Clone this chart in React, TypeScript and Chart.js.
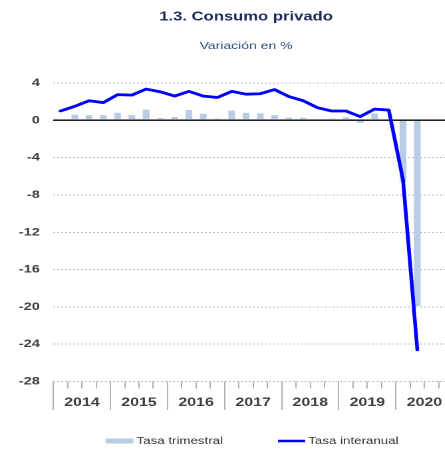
import React, { useEffect, useRef } from "react";
import { Chart, registerables } from "chart.js";

Chart.register(...registerables);

// ---- data ----
const YEARS = ["2014", "2015", "2016", "2017", "2018", "2019", "2020"];
const QUARTERS = YEARS.flatMap((y) => ["T1", "T2", "T3", "T4"].map((q) => `${q} ${y}`));

// Tasa trimestral (% q/q)
const TASA_TRIMESTRAL: (number | null)[] = [
  0.0, 0.6, 0.55, 0.55,
  0.8, 0.55, 1.15, 0.25,
  0.35, 1.1, 0.7, 0.2,
  1.05, 0.8, 0.75, 0.55,
  0.3, 0.28, 0.0, 0.18,
  0.32, -0.3, 0.75, 0.0,
  -6.6, -19.9, null, null,
];

// Tasa interanual (% y/y)
const TASA_INTERANUAL: (number | null)[] = [
  1.0, 1.5, 2.1, 1.9,
  2.75, 2.7, 3.35, 3.05,
  2.6, 3.1, 2.6, 2.45,
  3.1, 2.8, 2.85, 3.3,
  2.55, 2.1, 1.35, 1.0,
  1.0, 0.4, 1.2, 1.1,
  -6.4, -24.6, null, null,
];

const Y_MIN = -28;
const Y_MAX = 4;
const Y_STEP = 4;

const TITLE = "1.3. Consumo privado";
const SUBTITLE = "Variación en %";
const LEGEND_BAR = "Tasa trimestral";
const LEGEND_LINE = "Tasa interanual";

// ---- style ----
const FONT = "'Liberation Sans', Arial, Helvetica, sans-serif";
const BAR_COLOR = "#b8cce4";
const LINE_COLOR = "#0000ff";
const SCALE_X = 1.33;
const CANVAS_W = 370;
const CANVAS_H = 449;
const Y_LABEL_FONT_SIZE = 11;
const YEAR_TICK_LEN = 21.5;

const legendPlugin = {
  id: "customLegend",
  afterDraw(chart: any) {
    const ctx = chart.ctx;
    ctx.save();
    ctx.font = `10px ${FONT}`;
    ctx.textBaseline = "middle";
    ctx.textAlign = "left";
    const y = 441;
    const boxW = 21;
    const lineW = 20.5;
    const gapT = 2.3;
    const gapItems = 41.3;
    const t1 = ctx.measureText(LEGEND_BAR).width;
    const t2 = ctx.measureText(LEGEND_LINE).width;
    const total = boxW + gapT + t1 + gapItems + lineW + gapT + t2;
    let x = 189.5 - total / 2;
    const barDs = chart.data.datasets[1];
    const lineDs = chart.data.datasets[0];
    ctx.fillStyle = barDs.backgroundColor;
    ctx.fillRect(x, y - 2.5, boxW, 5);
    x += boxW + gapT;
    ctx.fillStyle = "#333333";
    ctx.fillText(LEGEND_BAR, x, y);
    x += t1 + gapItems;
    ctx.strokeStyle = lineDs.borderColor;
    ctx.lineWidth = 2.6;
    ctx.beginPath();
    ctx.moveTo(x, y);
    ctx.lineTo(x + lineW, y);
    ctx.stroke();
    x += lineW + gapT;
    ctx.fillStyle = "#333333";
    ctx.fillText(LEGEND_LINE, x, y);
    ctx.restore();
  },
};

export default function App() {
  const canvasRef = useRef<HTMLCanvasElement | null>(null);

  useEffect(() => {
    const canvas = canvasRef.current;
    if (!canvas) return;
    // widest y label ("-28") in bold Liberation Sans
    const mctx = document.createElement("canvas").getContext("2d")!;
    mctx.font = `bold ${Y_LABEL_FONT_SIZE}px ${FONT}`;
    const widest = Math.max(
      ...Array.from({ length: (Y_MAX - Y_MIN) / Y_STEP + 1 }, (_, i) =>
        mctx.measureText(String(Y_MIN + i * Y_STEP)).width
      )
    );
    const Y_AXIS_W = 10.7;
    const yPad = -(Y_AXIS_W - 0.6 + widest);

    const chart = new Chart(canvas, {
      type: "bar",
      data: {
        labels: QUARTERS,
        datasets: [
          {
            type: "line",
            label: LEGEND_LINE,
            data: TASA_INTERANUAL,
            borderColor: LINE_COLOR,
            backgroundColor: LINE_COLOR,
            borderWidth: 2.8,
            pointRadius: 0,
            tension: 0,
            borderJoinStyle: "round",
            borderCapStyle: "round",
            spanGaps: false,
            order: 0,
            xAxisID: "x",
          } as any,
          {
            type: "bar",
            label: LEGEND_BAR,
            data: TASA_TRIMESTRAL,
            backgroundColor: BAR_COLOR,
            borderWidth: 0,
            barPercentage: 0.47,
            categoryPercentage: 1,
            order: 1,
            xAxisID: "x",
          } as any,
        ],
      },
      options: {
        responsive: false,
        animation: false,
        devicePixelRatio: 2,
        layout: { padding: { top: 0, left: 29.4, right: 29.4, bottom: 39 } },
        plugins: {
          legend: { display: false },
          tooltip: { enabled: false },
          title: {
            display: true,
            text: TITLE,
            color: "#1f2d5c",
            font: { family: FONT, size: 12.5, weight: "bold", lineHeight: 1.2 },
            padding: { top: 9.5, bottom: 15.2 },
          },
          subtitle: {
            display: true,
            text: SUBTITLE,
            color: "#2e4a7a",
            font: { family: FONT, size: 10.5, weight: "normal", lineHeight: 1.2 },
            padding: { top: 0, bottom: 30.7 },
          },
        },
        scales: {
          x: {
            type: "category",
            position: "bottom",
            weight: 0,
            offset: true,
            border: { display: false },
            grid: {
              display: true,
              drawOnChartArea: false,
              offset: true,
              drawTicks: true,
              tickLength: 7,
              color: "#b0b0b0",
              lineWidth: 1,
            },
            ticks: { display: false, autoSkip: false },
          },
          x2: {
            type: "category",
            position: "bottom",
            weight: 1,
            labels: YEARS,
            offset: true,
            afterFit: (scale: any) => {
              scale.height = YEAR_TICK_LEN;
            },
            border: { display: false },
            grid: {
              display: true,
              drawOnChartArea: false,
              offset: true,
              drawTicks: true,
              tickLength: YEAR_TICK_LEN,
              color: "#b0b0b0",
              lineWidth: 1,
            },
            ticks: {
              autoSkip: false,
              maxRotation: 0,
              minRotation: 0,
              mirror: true,
              padding: -21.2,
              color: "#404040",
              font: { family: FONT, size: 12, weight: "bold", lineHeight: 1.2 },
            },
          },
          y: {
            min: Y_MIN,
            max: Y_MAX,
            afterFit: (scale: any) => {
              scale.width = Y_AXIS_W;
            },
            border: {
              display: false,
              dash: (ctx: any) => (ctx.tick && ctx.tick.value === 0 ? [] : [1.5, 1.5]),
            },
            grid: {
              drawTicks: false,
              color: (ctx: any) => (ctx.tick && ctx.tick.value === 0 ? "#000000" : "#bdbdbd"),
              lineWidth: (ctx: any) => (ctx.tick && ctx.tick.value === 0 ? 1.4 : 1),
            },
            ticks: {
              stepSize: Y_STEP,
              mirror: true,
              crossAlign: "far",
              padding: yPad,
              color: "#404040",
              font: { family: FONT, size: Y_LABEL_FONT_SIZE, weight: "bold" },
            },
          },
        },
      },
      plugins: [legendPlugin],
    } as any);
    return () => chart.destroy();
  }, []);

  return (
    <div
      style={{
        position: "fixed",
        left: 0,
        top: 0,
        width: 445,
        height: 449,
        overflow: "hidden",
        background: "#ffffff",
      }}
    >
      <div style={{ transform: `scaleX(${SCALE_X})`, transformOrigin: "0 0", width: CANVAS_W }}>
        <canvas
          ref={canvasRef}
          width={CANVAS_W}
          height={CANVAS_H}
          style={{ display: "block", width: CANVAS_W, height: CANVAS_H }}
        />
      </div>
    </div>
  );
}
